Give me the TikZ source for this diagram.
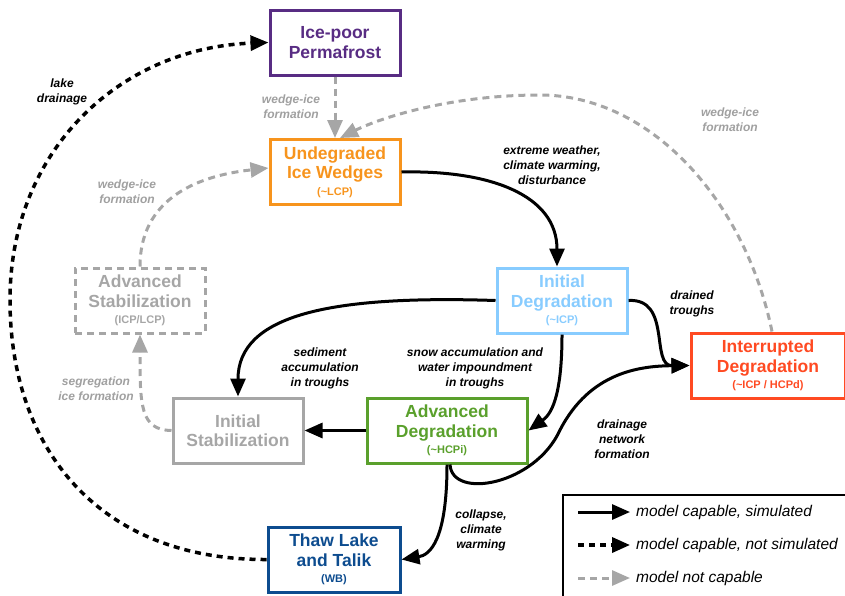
\documentclass[tikz,border=0pt]{standalone}
\usepackage{fontspec}
\setmainfont{Liberation Sans}
\usetikzlibrary{arrows.meta}
\definecolor{cpurple}{HTML}{582C83}
\definecolor{corange}{HTML}{F7941D}
\definecolor{cblue}{HTML}{88CCFF}
\definecolor{cgray}{HTML}{A6A6A6}
\definecolor{cred}{HTML}{FF4A22}
\definecolor{cgreen}{HTML}{5AA02C}
\definecolor{cnavy}{HTML}{0D4C8F}
\definecolor{lgray}{HTML}{A0A0A0}
\tikzset{
  box/.style={draw, line width=3pt, minimum width=130pt, minimum height=65pt, inner sep=0pt,
    align=center, font=\bfseries\fontsize{17.5}{19.5}\selectfont},
  sim/.style={draw=black, line width=3pt, -{Triangle[length=18pt,width=15pt]}},
  notsim/.style={draw=black, line width=3.5pt, dash pattern=on 6pt off 5pt, -{Triangle[length=18pt,width=15pt]}},
  nocap/.style={draw=cgray, line width=3pt, dash pattern=on 7pt off 5pt, -{Triangle[length=18pt,width=15pt]}},
  lbl/.style={align=center, inner sep=0pt, font=\bfseries\itshape\fontsize{12}{15}\selectfont},
  glbl/.style={lbl, text=lgray},
  leg/.style={anchor=west, inner sep=0pt, font=\itshape\fontsize{15.5}{17}\selectfont}
}
\newcommand{\sm}[1]{\\[-3pt]{\fontsize{11}{12}\selectfont #1}}
\begin{document}
\begin{tikzpicture}[x=1pt,y=-1pt]
\useasboundingbox (0,0) rectangle (845,595);
% boxes
\node[box, draw=cpurple, text=cpurple] (perm) at (335,42.5) {Ice-poor\\Permafrost};
\node[box, draw=corange, text=corange] (undeg) at (335,172) {Undegraded\\Ice Wedges\sm{(\textasciitilde LCP)}};
\node[box, draw=cblue, text=cblue] (initdeg) at (562,300.5) {Initial\\Degradation\sm{(\textasciitilde ICP)}};
\node[box, draw=cgray, text=cgray, dash pattern=on 7pt off 5pt] (advstab) at (140,300.5) {Advanced\\Stabilization\sm{(ICP/LCP)}};
\node[box, draw=cred, text=cred, minimum width=154pt] (interr) at (768,365.5) {Interrupted\\Degradation\sm{(\textasciitilde ICP / HCPd)}};
\node[box, draw=cgray, text=cgray] (initstab) at (238,430.5) {Initial\\Stabilization};
\node[box, draw=cgreen, text=cgreen, minimum width=160pt] (advdeg) at (447,430.5) {Advanced\\Degradation\sm{(\textasciitilde HCPi)}};
\node[box, draw=cnavy, text=cnavy, minimum width=132pt] (thaw) at (334,559.5) {Thaw Lake\\and Talik\sm{(WB)}};
% gray dashed edges
\draw[nocap] (perm.south) -- (undeg.north);
\draw[nocap] ([xshift=4pt]interr.north) .. controls (745,200) and (650,95) .. (540,95) .. controls (450,95) and (380,118) .. ([xshift=5pt]undeg.north);
\draw[nocap] (advstab.north) .. controls (140,200) and (195,176) .. ([yshift=4pt]undeg.west);
\draw[nocap] (initstab.west) .. controls (140,430) and (140,405) .. (advstab.south);
% solid edges
\draw[sim] (undeg.east) .. controls (490,170) and (557,195) .. ([xshift=-5pt]initdeg.north);
\draw[sim] (initdeg.west) .. controls (330,295) and (238,315) .. (initstab.north);
\draw[sim] (initdeg.south) .. controls (562,400) and (550,415) .. (advdeg.east);
\draw[sim] (initdeg.east) .. controls (672,298) and (650,366) .. (interr.west);
\draw[sim] (advdeg.west) -- (initstab.east);
\draw[sim] ([xshift=3pt]advdeg.south) .. controls (452,500) and (535,485) .. (560,430) .. controls (590,372) and (640,366) .. (interr.west);
\draw[sim] (advdeg.south) .. controls (447,540) and (430,555) .. (thaw.east);
% black dashed
\draw[notsim] (thaw.west) .. controls (100,560) and (10,450) .. (10,300) .. controls (10,150) and (120,48) .. (perm.west);
% labels
\node[lbl] (l-lake) at (62,92) {lake\\drainage};
\node[glbl] (l-w1) at (291,107) {wedge-ice\\formation};
\node[glbl] (l-w2) at (730,120) {wedge-ice\\formation};
\node[glbl] (l-w3) at (127,192) {wedge-ice\\formation};
\node[glbl] (l-seg) at (96,389) {segregation\\ice formation};
\node[lbl] (l-ext) at (552,165) {extreme weather,\\climate warming,\\disturbance};
\node[lbl] (l-dr) at (692,304) {drained\\troughs};
\node[lbl] (l-sed) at (320,368) {sediment\\accumulation\\in troughs};
\node[lbl] (l-snow) at (475,368) {snow accumulation and\\water impoundment\\in troughs};
\node[lbl] (l-dnf) at (622,439) {drainage\\network\\formation};
\node[lbl] (l-col) at (481,530) {collapse,\\climate\\warming};
% legend
\node[draw=black, line width=1.5pt, minimum width=300pt, minimum height=110pt, anchor=north west, inner sep=0pt] (legend) at (562,494) {};
\coordinate (a1) at (578,512); \coordinate (b1) at (630,512);
\coordinate (a2) at (578,545); \coordinate (b2) at (630,545);
\coordinate (a3) at (578,578); \coordinate (b3) at (630,578);
\draw[sim] (a1) -- (b1);
\draw[notsim] (a2) -- (b2);
\draw[nocap] (a3) -- (b3);
\node[leg] (t1) at (636,512) {model capable, simulated};
\node[leg] (t2) at (636,545) {model capable, not simulated};
\node[leg] (t3) at (636,578) {model not capable};
\end{tikzpicture}
\end{document}
